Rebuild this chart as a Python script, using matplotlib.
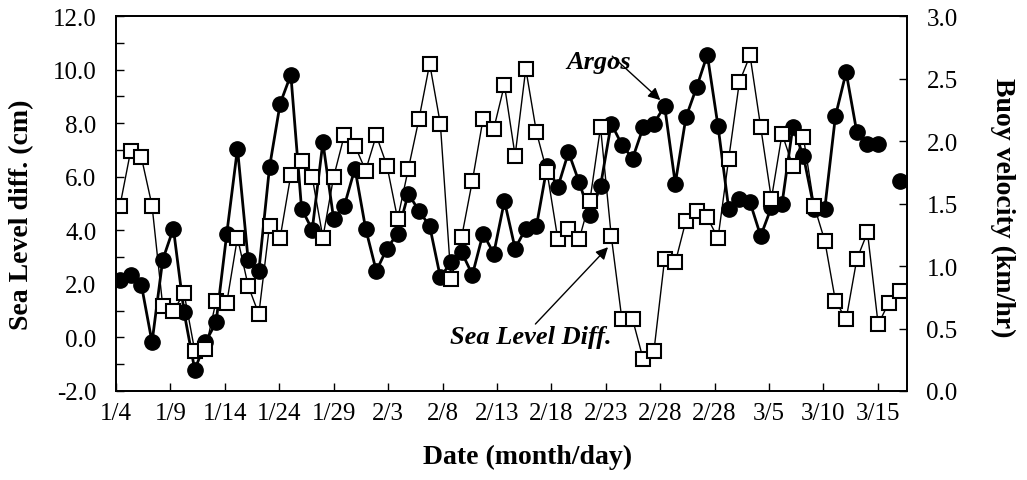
import numpy as np
import matplotlib
matplotlib.use("Agg")
import matplotlib.pyplot as plt

plt.rcParams["font.family"] = ["Liberation Serif", "DejaVu Serif"]

# --------------------------------------------------
# data (one point per day, index 0..73)
# --------------------------------------------------
day_idx = np.arange(74)

# squares: sea level difference (cm), left axis
sea_level_diff = [
    4.92, 6.97, 6.73, 4.92, 1.18, 0.99, 1.65, -0.50, -0.44, 1.36,
    1.30, 3.73, 1.93, 0.87, 4.17, 3.73, 6.08, 6.60, 5.98, 3.73,
    5.98, 7.54, 7.16, 6.23, 7.54, 6.41, 4.42, 6.29, 8.16, 10.22,
    7.97, 2.17, 3.76, 5.85, 8.16, 7.79, 9.43, 6.79, 10.03, 7.66,
    6.16, 3.67, 4.05, 3.67, 5.10, 7.85, 3.80, 0.68, 0.68, -0.82,
    -0.51, 2.92, 2.80, 4.36, 4.73, 4.48, 3.70, 6.66, 9.53, 10.53,
    7.85, 5.17, 7.60, 6.41, 7.47, 4.92, 3.61, 1.36, 0.68, 2.92,
    3.92, 0.49, 1.30, 1.74,
]

# circles: Argos buoy velocity (km/hr), right axis (day 72 missing)
buoy_velocity = [
    0.89, 0.93, 0.85, 0.39, 1.05, 1.30, 0.63, 0.17, 0.39, 0.55,
    1.26, 1.94, 1.05, 0.96, 1.79, 2.30, 2.53, 1.46, 1.29, 1.99,
    1.38, 1.48, 1.78, 1.30, 0.96, 1.14, 1.26, 1.58, 1.44, 1.32,
    0.91, 1.03, 1.11, 0.93, 1.26, 1.10, 1.52, 1.14, 1.30, 1.32,
    1.80, 1.63, 1.91, 1.67, 1.41, 1.64, 2.14, 1.97, 1.86, 2.11,
    2.14, 2.28, 1.66, 2.19, 2.43, 2.69, 2.12, 1.46, 1.54, 1.51,
    1.24, 1.47, 1.50, 2.11, 1.88, 1.46, 1.46, 2.20, 2.55, 2.07,
    1.98, 1.98, np.nan, 1.68,
]

tick_labels = ["1/4", "1/9", "1/14", "1/24", "1/29", "2/3", "2/8", "2/13",
               "2/18", "2/23", "2/28", "2/28", "3/5", "3/10", "3/15"]

# x scale: label spacing in day units, first label at left edge
TICK_STEP = 5.096
X_START = -0.375
X_END = 73.7

fig = plt.figure(figsize=(10.27, 4.81), dpi=100)
ax1 = fig.add_axes([116 / 1027, 89 / 481, 791 / 1027, 375 / 481])
ax2 = ax1.twinx()

# circles underneath, squares on top
ax2.plot(day_idx, buoy_velocity, color="black", lw=2.0, marker="o",
         markersize=11, markerfacecolor="black", markeredgecolor="black")
ax1.plot(day_idx, sea_level_diff, color="black", lw=1.0, marker="s",
         markersize=10, markerfacecolor="white", markeredgecolor="black",
         markeredgewidth=1.5)
ax1.set_zorder(ax2.get_zorder() + 1)
ax1.patch.set_visible(False)

ax1.set_xlim(X_START, X_END)
ax1.set_ylim(-2, 12)
ax2.set_ylim(0, 3)

ax1.set_xticks(X_START + TICK_STEP * np.arange(len(tick_labels)))
ax1.set_xticklabels(tick_labels)
ax1.set_yticks(np.arange(-2, 12.1, 2))
ax1.set_yticks(np.arange(-2, 12.1, 1), minor=True)
ax1.set_yticklabels([f"{v:.1f}" for v in np.arange(-2, 12.1, 2)])
ax2.set_yticks(np.arange(0, 3.01, 0.5))
ax2.set_yticklabels([f"{v:.1f}" for v in np.arange(0, 3.01, 0.5)])

ax1.tick_params(axis="both", which="both", direction="in", labelsize=18)
ax1.tick_params(axis="x", length=6, width=1, pad=8)
ax1.tick_params(axis="y", which="major", length=6, width=1, pad=14)
ax1.tick_params(axis="y", which="minor", length=6, width=1)
ax2.tick_params(axis="y", direction="in", length=6, width=1, labelsize=18, pad=14)
for ax in (ax1, ax2):
    for sp in ax.spines.values():
        sp.set_linewidth(1.3)

# annotations
ax1.annotate("", xy=(50.6, 8.86), xytext=(46.1, 10.5),
             arrowprops=dict(arrowstyle="-|>", lw=1.0, color="black",
                             mutation_scale=18, shrinkA=0, shrinkB=0))
ax1.text(44.8, 10.32, "Argos", fontsize=19, fontweight="bold",
         fontstyle="italic", ha="center", va="center")
ax1.annotate("", xy=(45.7, 3.37), xytext=(38.9, 0.5),
             arrowprops=dict(arrowstyle="-|>", lw=1.0, color="black",
                             mutation_scale=18, shrinkA=0, shrinkB=0))
ax1.text(38.5, 0.05, "Sea Level Diff.", fontsize=19, fontweight="bold",
         fontstyle="italic", ha="center", va="center")

# axis labels
fig.text(22 / 1027, 1 - 215 / 481, "Sea Level diff. (cm)", rotation=90,
         fontsize=20, fontweight="bold", ha="center", va="center")
fig.text(1003 / 1027, 1 - 208 / 481, "Buoy velocity (km/hr)", rotation=-90,
         fontsize=20, fontweight="bold", ha="center", va="center")
fig.text(528 / 1027, 1 - 457 / 481, "Date (month/day)",
         fontsize=20, fontweight="bold", ha="center", va="center")

fig.savefig("out.png", dpi=100)
